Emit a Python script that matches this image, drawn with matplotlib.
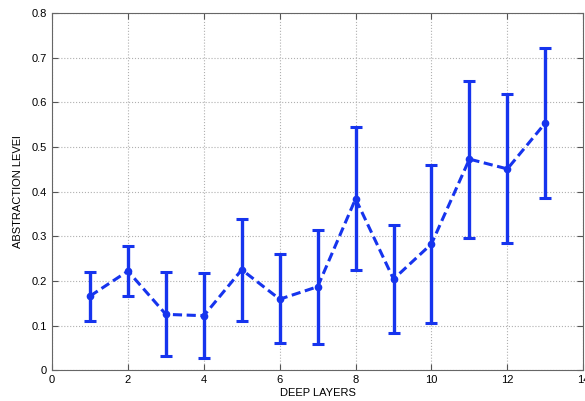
import matplotlib
matplotlib.use('Agg')
import matplotlib.pyplot as plt

layers = [1, 2, 3, 4, 5, 6, 7, 8, 9, 10, 11, 12, 13]
abstraction = [0.166, 0.222, 0.125, 0.122, 0.225, 0.159, 0.187, 0.384, 0.204, 0.283, 0.473, 0.451, 0.554]
err_top = [0.221, 0.279, 0.220, 0.218, 0.338, 0.260, 0.315, 0.546, 0.325, 0.460, 0.649, 0.620, 0.722]
err_bottom = [0.109, 0.166, 0.031, 0.028, 0.110, 0.060, 0.059, 0.225, 0.084, 0.105, 0.296, 0.284, 0.386]

plt.rcParams['font.family'] = ['Liberation Sans', 'DejaVu Sans']

fig = plt.figure(figsize=(5.85, 4.01), dpi=100)
ax = fig.add_axes([0.089, 0.077, 0.908, 0.890])

yerr = [[m - b for m, b in zip(abstraction, err_bottom)],
        [t - m for m, t in zip(abstraction, err_top)]]
color = '#1634ee'
ax.errorbar(layers, abstraction, yerr=yerr, color=color, linestyle='--', linewidth=2.2,
            marker='o', markersize=4.5, elinewidth=2.4, capsize=4.5, capthick=2.2, dashes=(3, 1.5))

ax.set_xlim(0, 14)
ax.set_ylim(0, 0.8)
ax.set_xticks(range(0, 15, 2))
ax.set_yticks([0, 0.1, 0.2, 0.3, 0.4, 0.5, 0.6, 0.7, 0.8])
ax.set_yticklabels(['0', '0.1', '0.2', '0.3', '0.4', '0.5', '0.6', '0.7', '0.8'])
ax.grid(True, linestyle=':', color='#b0b0b0', linewidth=0.8)
ax.tick_params(direction='in', top=True, right=True, labelsize=8, length=4, color='#555555')
for s in ax.spines.values():
    s.set_color('#666666')
    s.set_linewidth(0.8)

ax.set_xlabel('DEEP LAYERS', fontsize=8, labelpad=2)
ax.set_ylabel('ABSTRACTION LEVEl', fontsize=8, labelpad=6)

fig.savefig('out.png', dpi=100)
